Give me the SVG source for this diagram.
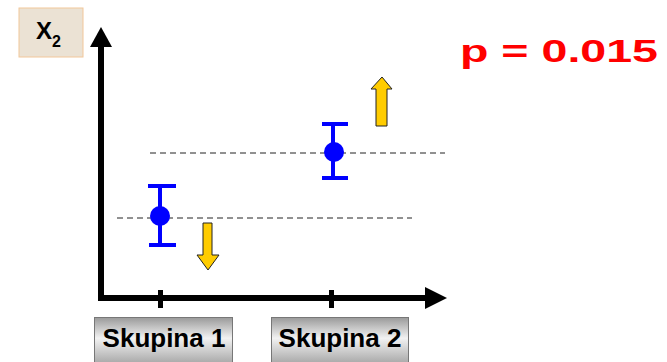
<svg xmlns="http://www.w3.org/2000/svg" width="667" height="362" viewBox="0 0 667 362">
<defs>
<linearGradient id="btn" x1="0" y1="0" x2="0" y2="1">
<stop offset="0" stop-color="#9a9a9a"/>
<stop offset="0.45" stop-color="#f2f2f2"/>
<stop offset="1" stop-color="#a8a8a8"/>
</linearGradient>
<style>
.axis{stroke:#000;stroke-width:6;fill:none}
.tick{stroke:#000;stroke-width:5}
.dash{stroke:#222;stroke-width:1;stroke-dasharray:6,4;fill:none}
.err{stroke:#0000ff;stroke-width:4;fill:none}
.pt{fill:#0000ff}
.yarrow{fill:#ffcc00;stroke:#222;stroke-width:1}
.lbl{font-family:"Liberation Sans",Arial,sans-serif;font-weight:bold;font-size:26px;fill:#000;text-anchor:middle}
.btn{fill:url(#btn);stroke:#777;stroke-width:1}
</style>
</defs>
<g id="ylabel">
<rect x="19" y="8" width="64" height="49" fill="#ebe2d4" stroke="#f2c79a" stroke-width="1"/>
<text x="36" y="39" font-family="Liberation Sans,Arial,sans-serif" font-weight="bold" font-size="24" fill="#000">X<tspan font-size="16" dy="8">2</tspan></text>
</g>
<g id="axes">
<line class="axis" x1="101" y1="45" x2="101" y2="298"/>
<polygon points="101,27 112,47 90,47" fill="#000"/>
<line class="axis" x1="98" y1="298" x2="427" y2="298"/>
<polygon points="447,298 425,287 425,309" fill="#000"/>
<line class="tick" x1="160.5" y1="290" x2="160.5" y2="308"/>
<line class="tick" x1="331.5" y1="290" x2="331.5" y2="308"/>
</g>
<g id="connectors">
<line class="dash" x1="117" y1="218" x2="412" y2="218"/>
<line class="dash" x1="150" y1="153" x2="445" y2="153"/>
</g>
<g id="group1">
<line class="err" x1="160" y1="186" x2="160" y2="245"/>
<line class="err" x1="148" y1="186" x2="176" y2="186"/>
<line class="err" x1="149" y1="245" x2="176" y2="245"/>
<circle class="pt" cx="160" cy="216" r="10"/>
</g>
<g id="group2">
<line class="err" x1="333" y1="124" x2="333" y2="178"/>
<line class="err" x1="322" y1="124" x2="348" y2="124"/>
<line class="err" x1="322" y1="178" x2="348" y2="178"/>
<circle class="pt" cx="334" cy="152" r="10"/>
</g>
<g id="arrow-down">
<polygon class="yarrow" points="203,223 212,223 212,255 219,255 208,270 197,255 203,255"/>
</g>
<g id="arrow-up">
<polygon class="yarrow" points="376,126 387,126 387,89 392,89 382,77 371,89 376,89"/>
</g>
<g id="pvalue">
<text x="460" y="62" font-family="Liberation Sans,Arial,sans-serif" font-weight="bold" font-size="32" fill="#ff0000" textLength="198" lengthAdjust="spacingAndGlyphs">p = 0.015</text>
</g>
<g id="skupina1">
<rect class="btn" x="94.5" y="317.5" width="138" height="46"/>
<text class="lbl" x="164" y="347">Skupina 1</text>
</g>
<g id="skupina2">
<rect class="btn" x="271.5" y="317.5" width="137" height="46"/>
<text class="lbl" x="340" y="347">Skupina 2</text>
</g>
</svg>
